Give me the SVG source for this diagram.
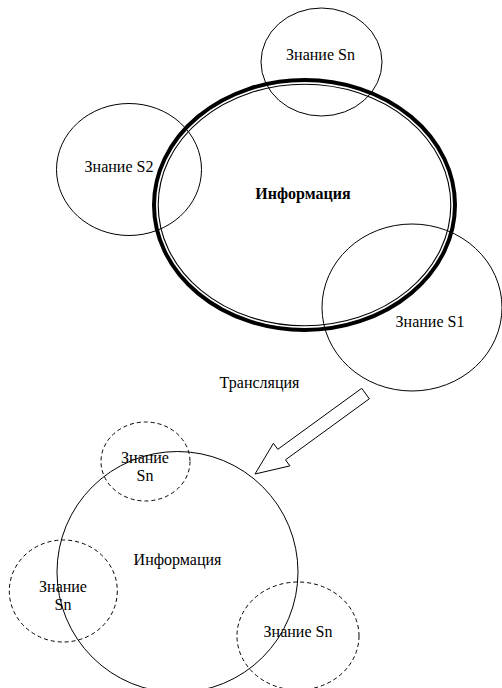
<svg xmlns="http://www.w3.org/2000/svg" width="502" height="688" viewBox="0 0 502 688">
<style>
.t{font-family:"Liberation Serif","Times New Roman",serif;font-size:16px;fill:#000;text-anchor:middle}
.b{font-weight:bold}
.s{fill:none;stroke:#000;stroke-width:1}
.d{fill:none;stroke:#000;stroke-width:1;stroke-dasharray:4 3}
</style>
<rect width="502" height="688" fill="#fff"/>
<g id="info-main">
<ellipse cx="304.5" cy="205" rx="150.5" ry="125" fill="none" stroke="#000" stroke-width="4"/>
<ellipse cx="304.5" cy="205" rx="146.3" ry="120.8" fill="none" stroke="#000" stroke-width="1.1"/>
<text class="t b" x="303" y="199">Информация</text>
</g>
<g id="know-sn-top">
<ellipse class="s" cx="321.5" cy="62" rx="60.5" ry="54"/>
<text class="t" x="320.5" y="60">Знание Sn</text>
</g>
<g id="know-s2">
<ellipse class="s" cx="129" cy="169.5" rx="72.5" ry="66"/>
<text class="t" x="119" y="172">Знание S2</text>
</g>
<g id="know-s1">
<ellipse class="s" cx="412" cy="307.5" rx="90" ry="83.5"/>
<text class="t" x="430" y="327">Знание S1</text>
</g>
<g id="connectors">
<polygon class="s" points="361.7,388.3 369.3,398.8 285.5,459.8 289.9,465.9 255,474 273.4,443.3 277.8,449.3"/>
<text class="t" x="259.5" y="388">Трансляция</text>
</g>
<g id="info-translated">
<circle class="s" cx="177.5" cy="572" r="120.5"/>
<text class="t" x="177.5" y="565">Информация</text>
</g>
<g id="know-sn-1">
<ellipse class="d" cx="145.5" cy="461.5" rx="44.5" ry="39.5"/>
<text class="t" x="145" y="463">Знание</text>
<text class="t" x="145" y="481">Sn</text>
</g>
<g id="know-sn-2">
<ellipse class="d" cx="63.3" cy="591" rx="54" ry="51"/>
<text class="t" x="63" y="592">Знание</text>
<text class="t" x="63" y="610">Sn</text>
</g>
<g id="know-sn-3">
<ellipse class="d" cx="298" cy="636" rx="61" ry="54"/>
<text class="t" x="298" y="637">Знание Sn</text>
</g>
</svg>
